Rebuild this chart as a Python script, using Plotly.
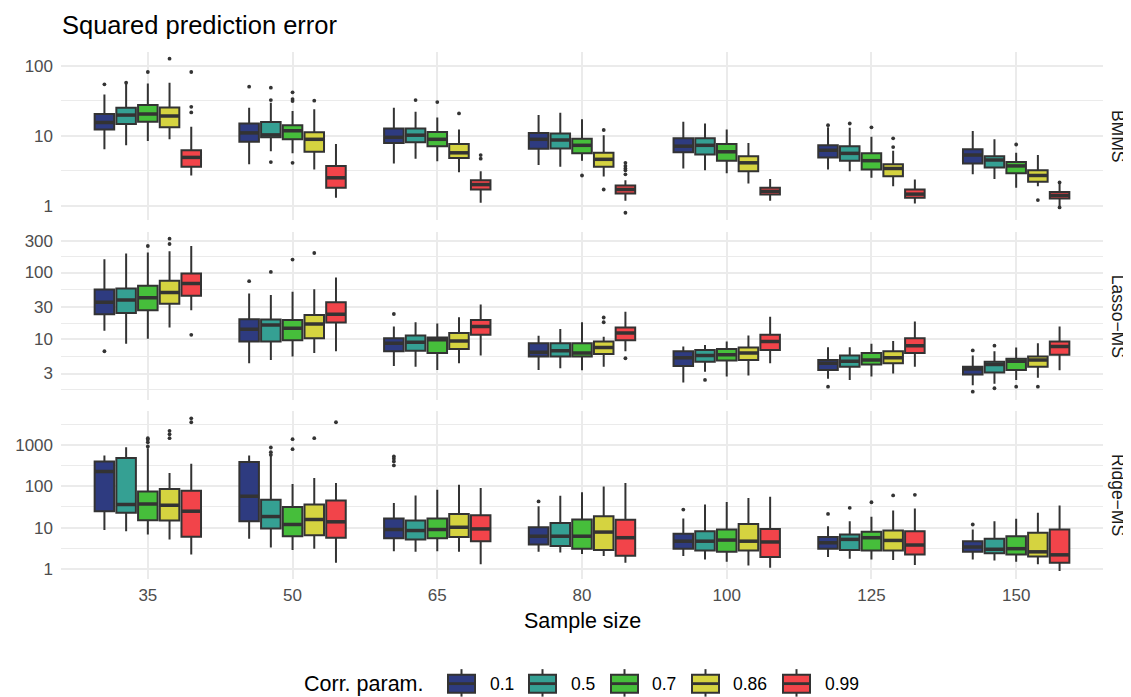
import plotly.graph_objects as go

# ---------------- data ----------------
SAMPLE_SIZES = ["35", "50", "65", "80", "100", "125", "150"]
CORR_PARAMS = ["0.1", "0.5", "0.7", "0.86", "0.99"]
COLORS = ["#2E3B80", "#35A093", "#46BE3B", "#D5D340", "#F2444A"]
METHODS = ["BMMS", "Lasso\u2212MS", "Ridge\u2212MS"]

# BMMS: rows = corr param, cols = sample size
BMMS_LO = [[6.4, 3.9, 4.0, 3.8, 3.4, 3.3, 2.8],
           [7.3, 6.0, 4.7, 3.6, 3.2, 3.1, 2.4],
           [8.4, 5.6, 4.3, 4.4, 2.9, 2.5, 1.8],
           [8.9, 3.3, 3.0, 2.6, 2.07, 1.9, 1.9],
           [2.7, 1.29, 1.1, 1.17, 1.17, 1.07, 0.96]]
BMMS_Q1 = [[12.3, 8.2, 7.9, 6.5, 5.8, 4.9, 4.0],
           [14.7, 9.5, 8.1, 6.6, 5.4, 4.4, 3.5],
           [15.9, 8.9, 7.1, 5.6, 4.4, 3.3, 2.9],
           [13.2, 5.9, 4.8, 3.6, 3.1, 2.64, 2.2],
           [3.6, 1.8, 1.7, 1.49, 1.44, 1.3, 1.26]]
BMMS_MED = [[15.5, 11.0, 9.5, 8.9, 7.1, 6.2, 5.3],
            [19.8, 10.3, 10.2, 8.7, 7.3, 5.6, 4.5],
            [20.5, 11.8, 8.9, 7.3, 5.9, 4.4, 3.7],
            [19.2, 8.9, 5.7, 4.6, 4.1, 3.4, 2.7],
            [4.9, 2.5, 2.0, 1.7, 1.6, 1.46, 1.4]]
BMMS_Q3 = [[20.5, 15.0, 12.7, 11.0, 9.2, 7.3, 6.4],
           [25.2, 15.7, 12.7, 10.8, 9.2, 7.1, 5.1],
           [27.5, 14.1, 11.3, 9.1, 7.6, 5.6, 4.2],
           [25.5, 11.2, 7.6, 5.7, 5.1, 3.9, 3.2],
           [6.2, 3.7, 2.3, 1.94, 1.8, 1.7, 1.57]]
BMMS_HI = [[39, 25.2, 25.2, 19.8, 15.9, 13.2, 11.7],
           [55, 29.8, 22, 21.4, 15, 13, 8.9],
           [56, 22.6, 18.3, 17.2, 12.3, 9.7, 5.7],
           [57.6, 23.9, 12.3, 10.2, 7.9, 6.1, 5.3],
           [13.5, 7.6, 3.1, 2.3, 2.4, 2.36, 2.07]]
BMMS_OUT = [[[54.6], [50.5], [], [], [], [14.2], []],
            [[57.6], [48.9, 32.5, 4.2], [32.5], [], [], [15], []],
            [[82], [41.9, 33.5, 31.5, 4.1], [30.4], [2.7], [], [13.2], [7.5]],
            [[127], [31.8], [20.9], [12.1, 1.7], [], [9.2, 6.9], [1.2]],
            [[82, 26, 21.6], [], [5.3, 4.7], [4.1, 3.7, 3.4, 3.2, 2.8, 0.79], [], [], [2.15, 0.94]]]

# Lasso-MS
LASSO_LO = [[13.2, 4.3, 3.9, 3.4, 2.2, 2.5, 2.0],
            [8.4, 4.8, 3.8, 3.6, 3.2, 2.4, 2.1],
            [10, 5.4, 3.4, 3.35, 2.7, 2.7, 2.4],
            [14.8, 6.1, 4.3, 3.8, 2.8, 3.0, 2.6],
            [26.9, 6.5, 5.6, 6.5, 4.3, 3.8, 3.35]]
LASSO_Q1 = [[23.4, 9.1, 6.5, 5.4, 3.9, 3.4, 2.9],
            [24.5, 9.1, 6.6, 5.4, 4.5, 3.8, 3.1],
            [26.9, 9.5, 6.1, 5.4, 4.7, 4.1, 3.4],
            [33.9, 10.2, 7.0, 5.9, 4.8, 4.3, 3.8],
            [44.7, 17.6, 11.5, 9.5, 6.8, 6.1, 5.75]]
LASSO_MED = [[35.5, 14.0, 8.6, 6.3, 5.2, 4.3, 3.5],
             [38.5, 16.2, 8.9, 6.6, 5.6, 4.6, 4.1],
             [41.7, 14.5, 9.7, 6.1, 5.75, 4.8, 4.6],
             [50, 16.8, 9.3, 7.4, 6.1, 5.2, 4.8],
             [68.4, 23.4, 15.3, 12.2, 9.1, 7.9, 7.7]]
LASSO_Q3 = [[55.6, 19.7, 10.2, 8.6, 6.5, 4.8, 3.8],
            [57.5, 19.5, 11.2, 8.6, 6.8, 5.6, 4.5],
            [63, 19.3, 10.5, 8.6, 7.0, 6.1, 5.0],
            [75, 22.9, 12.3, 9.1, 7.4, 6.5, 5.4],
            [96.6, 35.5, 19.3, 14.8, 11.5, 10.2, 9.1]]
LASSO_HI = [[158, 48.4, 15.3, 11.1, 7.7, 7.5, 5.6],
            [193, 45.7, 17.8, 14.1, 8.1, 7.5, 6.5],
            [200, 51.3, 17, 17.8, 9.1, 8.4, 7.4],
            [209, 56, 21.1, 10.8, 11.2, 9.3, 8.6],
            [251, 84, 33, 25.7, 21.6, 18.2, 15.3]]
LASSO_OUT = [[[6.5], [74], [23.7], [], [], [1.9], [6.7, 1.6]],
             [[], [102], [], [], [2.4], [], [7.9, 1.8]],
             [[251], [157], [], [], [], [], [1.9]],
             [[324, 269], [197], [], [21, 17.8], [], [], [1.9]],
             [[11.5], [], [], [5.1], [], [], []]]

# Ridge-MS
RIDGE_LO = [[8.7, 5.4, 2.7, 2.6, 2.05, 1.95, 1.7],
            [8.2, 3.3, 2.6, 2.5, 1.7, 1.77, 1.6],
            [6.8, 2.9, 2.7, 2.3, 1.5, 1.7, 1.5],
            [5.2, 3.1, 2.6, 2.05, 1.22, 1.65, 1.3],
            [2.25, 1.42, 1.3, 1.42, 1.08, 1.25, 0.9]]
RIDGE_Q1 = [[24.9, 14.3, 5.5, 3.9, 3.1, 3.1, 2.6],
            [22.7, 9.5, 5.2, 3.6, 2.8, 2.9, 2.4],
            [15.1, 6.2, 5.5, 3.1, 2.6, 2.8, 2.25],
            [14.8, 6.5, 5.9, 2.9, 2.8, 2.8, 2.0],
            [6.0, 5.7, 4.7, 2.1, 1.95, 2.25, 1.42]]
RIDGE_MED = [[228, 57, 9.0, 6.2, 4.7, 4.3, 3.4],
             [36, 18.5, 8.5, 6.2, 4.7, 5.2, 3.0],
             [37, 11.9, 9.0, 6.2, 5.0, 5.7, 3.1],
             [34.6, 15.7, 10.2, 7.8, 4.7, 4.9, 2.6],
             [24.9, 13.8, 9.3, 5.7, 4.5, 3.8, 2.2]]
RIDGE_Q3 = [[396, 382, 16.6, 10.2, 7.1, 5.9, 4.7],
            [477, 47.4, 14.8, 13, 8.2, 6.8, 5.4],
            [75, 31.6, 16.6, 15.7, 9.0, 7.9, 6.2],
            [85.6, 36, 21.4, 18.8, 12.3, 8.5, 7.5],
            [78, 45, 19.9, 15.4, 9.2, 8.2, 9.0]]
RIDGE_HI = [[552, 552, 39.4, 32.8, 16.6, 10.8, 9.0],
            [877, 542, 60, 59, 36, 14.3, 14.3],
            [830, 113, 82.5, 71, 41.7, 18.2, 16.3],
            [208, 157, 109, 99, 52, 25.8, 22.7],
            [348, 119, 90, 119, 56, 28.8, 34]]
RIDGE_OUT = [[[], [], [523, 460, 396, 318], [43], [27.3], [21.4], [11.9]],
             [[], [861, 665, 574], [], [], [], [29.9], []],
             [[1445, 1318, 1150, 910], [1367, 785], [], [], [], [41], []],
             [[2170, 1800, 1445], [1445], [], [], [], [60], []],
             [[4370, 3500], [3500], [], [], [], [62], []]]

PANELS = [
    (BMMS_LO, BMMS_Q1, BMMS_MED, BMMS_Q3, BMMS_HI, BMMS_OUT),
    (LASSO_LO, LASSO_Q1, LASSO_MED, LASSO_Q3, LASSO_HI, LASSO_OUT),
    (RIDGE_LO, RIDGE_Q1, RIDGE_MED, RIDGE_Q3, RIDGE_HI, RIDGE_OUT),
]

# y-axis ticks per panel
Y_TICKS = [[1, 10, 100], [3, 10, 30, 100, 300], [1, 10, 100, 1000]]
Y_TICKTEXT = [["1", "10", "100"], ["3", "10", "30", "100", "300"], ["1", "10", "100", "1000"]]
Y_MINOR = [[3.1623, 31.623], [1.7321, 5.4772, 17.321, 54.772, 173.21], [3.1623, 31.623, 316.23, 3162.3]]
Y_RANGE = [[-0.205, 2.200], [0.081, 2.617], [-0.241, 3.821]]

# ---------------- layout constants (reference pixel coordinates) ----------------
W, H = 1131, 697
OFF = 8  # the page body margin shifts the figure by this many pixels
PL, PR, PT, PB = 61, 1103, 52, 579.3
PANEL_PX = [(52, 220), (231.7, 400), (411, 579.3)]
FONT = "Liberation Sans, Arial, Helvetica, sans-serif"
EDGE = "#333333"
GRID = "#EBEBEB"
DODGE = 0.15
BOXW = 0.135
LW = 2.0

# manual legend geometry (reference pixels)
LEG_TITLE_X, LEG_Y = 304, 684
KEY_X = [448, 529, 611, 692, 783]
KEY_W, KEY_TOP, KEY_BOT, STUB_TOP, STUB_BOT = 27, 675, 693, 669.5, 697
LABEL_X = [490, 571, 652, 733, 825]


def dom(top, bot):
    return [(PB - bot) / (PB - PT), (PB - top) / (PB - PT)]


def px(xpix):
    return (xpix - PL) / (PR - PL)


def py(ypix):
    return (PB - ypix) / (PB - PT)


fig = go.Figure()

for r, (lo, q1, med, q3, hi, out) in enumerate(PANELS):
    xa = "x" if r == 0 else f"x{r + 1}"
    ya = "y" if r == 0 else f"y{r + 1}"
    for j in range(len(CORR_PARAMS)):
        pos = [i + (j - 2) * DODGE for i in range(len(SAMPLE_SIZES))]
        fig.add_trace(go.Box(
            x=pos, q1=q1[j], median=med[j], q3=q3[j],
            lowerfence=lo[j], upperfence=hi[j],
            width=BOXW, whiskerwidth=0, boxpoints=False,
            fillcolor=COLORS[j], line=dict(color=EDGE, width=LW),
            name=CORR_PARAMS[j], legendgroup=CORR_PARAMS[j],
            showlegend=False, xaxis=xa, yaxis=ya, hoverinfo="skip",
        ))
        mx, my = [], []
        for i in range(len(SAMPLE_SIZES)):
            mx += [pos[i] - BOXW / 2, pos[i] + BOXW / 2, None]
            my += [med[j][i], med[j][i], None]
        fig.add_trace(go.Scatter(
            x=mx, y=my, mode="lines", line=dict(color=EDGE, width=3.5),
            showlegend=False, xaxis=xa, yaxis=ya, hoverinfo="skip",
        ))
        ox, oy = [], []
        for i in range(len(SAMPLE_SIZES)):
            for v in out[j][i]:
                ox.append(pos[i])
                oy.append(v)
        if ox:
            fig.add_trace(go.Scatter(
                x=ox, y=oy, mode="markers",
                marker=dict(size=3.8, color=EDGE, line=dict(width=0)),
                showlegend=False, xaxis=xa, yaxis=ya, hoverinfo="skip",
            ))

layout = dict(
    width=W - OFF, height=H - OFF,
    margin=dict(l=PL - OFF, r=W - PR, t=PT - OFF, b=H - PB, pad=0, autoexpand=False),
    paper_bgcolor="white", plot_bgcolor="white",
    font=dict(family=FONT, color="#000000"),
    boxmode="overlay",
    showlegend=False,
)

for r in range(3):
    xk = "xaxis" if r == 0 else f"xaxis{r + 1}"
    yk = "yaxis" if r == 0 else f"yaxis{r + 1}"
    ya = "y" if r == 0 else f"y{r + 1}"
    xa = "x" if r == 0 else f"x{r + 1}"
    layout[xk] = dict(
        domain=[0, 1], anchor=ya, range=[-0.6, len(SAMPLE_SIZES) - 0.4],
        tickvals=list(range(len(SAMPLE_SIZES))), ticktext=SAMPLE_SIZES,
        showticklabels=(r == 2), ticks="", showline=False, zeroline=False,
        showgrid=True, gridcolor=GRID, gridwidth=1.9,
        tickfont=dict(size=17, color="#4D4D4D"), ticklabelstandoff=4,
    )
    if r > 0:
        layout[xk]["matches"] = "x"
    layout[yk] = dict(
        domain=dom(*PANEL_PX[r]), anchor=xa, type="log", range=Y_RANGE[r],
        tickvals=Y_TICKS[r], ticktext=Y_TICKTEXT[r],
        ticks="", showline=False, zeroline=False,
        showgrid=True, gridcolor=GRID, gridwidth=1.9,
        minor=dict(tickvals=Y_MINOR[r], showgrid=True, gridcolor=GRID, gridwidth=1.0, ticks=""),
        tickfont=dict(size=17, color="#4D4D4D"), ticklabelstandoff=7,
    )

annotations = []
for r, name in enumerate(METHODS):
    d = dom(*PANEL_PX[r])
    annotations.append(dict(
        text=name, xref="paper", yref="paper", x=px(1118),
        y=(d[0] + d[1]) / 2, xanchor="center", yanchor="middle",
        textangle=90, showarrow=False, font=dict(size=17.5, color="#1A1A1A", family=FONT),
    ))
annotations.append(dict(
    text="Squared prediction error", xref="paper", yref="paper", x=px(60), xanchor="left",
    y=py(25), yanchor="middle", showarrow=False,
    font=dict(size=25.5, color="#000000", family=FONT),
))
annotations.append(dict(
    text="Sample size", xref="paper", yref="paper", x=0.5, xanchor="center",
    y=py(621), yanchor="middle", showarrow=False,
    font=dict(size=21.5, color="#000000", family=FONT),
))

# legend (drawn as shapes + text)
annotations.append(dict(
    text="Corr. param.", xref="paper", yref="paper", x=px(LEG_TITLE_X - 2), xanchor="left",
    y=py(LEG_Y), yanchor="middle", showarrow=False,
    font=dict(size=21.5, color="#000000", family=FONT),
))
shapes = []
for j, lab in enumerate(CORR_PARAMS):
    x0, x1 = px(KEY_X[j]), px(KEY_X[j] + KEY_W)
    xc = px(KEY_X[j] + KEY_W / 2)
    shapes.append(dict(type="line", xref="paper", yref="paper", x0=xc, x1=xc,
                       y0=py(STUB_TOP), y1=py(STUB_BOT), line=dict(color=EDGE, width=LW)))
    shapes.append(dict(type="rect", xref="paper", yref="paper", x0=x0, x1=x1,
                       y0=py(KEY_BOT), y1=py(KEY_TOP), fillcolor=COLORS[j],
                       line=dict(color=EDGE, width=LW)))
    shapes.append(dict(type="line", xref="paper", yref="paper", x0=x0, x1=x1,
                       y0=py(LEG_Y), y1=py(LEG_Y), line=dict(color=EDGE, width=2.8)))
    annotations.append(dict(
        text=lab, xref="paper", yref="paper", x=px(LABEL_X[j] - 2), xanchor="left",
        y=py(LEG_Y), yanchor="middle", showarrow=False,
        font=dict(size=17.5, color="#000000", family=FONT),
    ))

layout["annotations"] = annotations
layout["shapes"] = shapes

fig.update_layout(**layout)
fig.write_html("out.html")
